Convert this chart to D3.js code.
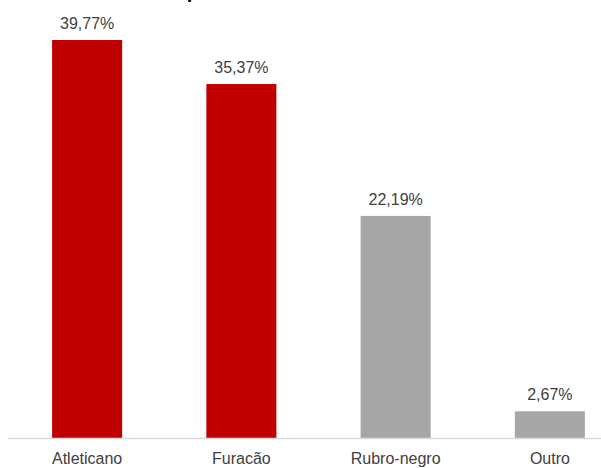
<!DOCTYPE html>
<html>
<head>
<meta charset="utf-8">
<script src="https://cdn.jsdelivr.net/npm/d3@7/dist/d3.min.js"></script>
<style>
  html, body { margin: 0; padding: 0; background: #fff; }
  svg { display: block; }
</style>
</head>
<body>
<svg id="chart" width="601" height="468"></svg>
<script>
// Apelido preferido pelo torcedor (% das respostas)
const categories = ["Atleticano", "Furacão", "Rubro-negro", "Outro"];
const values = [39.77, 35.37, 22.19, 2.67];
const valueLabels = ["39,77%", "35,37%", "22,19%", "2,67%"];
const barColors = ["#C00000", "#C00000", "#A6A6A6", "#A6A6A6"];
const title = "Como o torcedor prefere ser chamado";

const width = 601, height = 468;
const baseY = 438;
const svg = d3.select("#chart");

const x = d3.scaleBand()
  .domain(categories)
  .range([10, 627])
  .paddingInner(0.546)
  .paddingOuter(0.273);

const y = d3.scaleLinear()
  .domain([0, 39.77])
  .range([baseY, 40]);

// title (runs off the top edge of the frame)
svg.append("text")
  .attr("x", 20)
  .attr("y", -2)
  .attr("font-family", "Liberation Sans, Arial, sans-serif")
  .attr("font-weight", "bold")
  .attr("font-size", 20)
  .attr("fill", "#000")
  .text(title);

// bars
svg.append("g")
  .selectAll("rect")
  .data(values)
  .join("rect")
  .attr("x", (d, i) => x(categories[i]))
  .attr("y", d => y(d))
  .attr("width", x.bandwidth())
  .attr("height", d => y(0) - y(d))
  .attr("fill", (d, i) => barColors[i]);

// value labels
svg.append("g")
  .selectAll("text")
  .data(values)
  .join("text")
  .attr("x", (d, i) => x(categories[i]) + x.bandwidth() / 2)
  .attr("y", d => y(d) - 11)
  .attr("text-anchor", "middle")
  .attr("font-family", "Liberation Sans, Arial, sans-serif")
  .attr("font-size", 16)
  .attr("fill", "#404040")
  .text((d, i) => valueLabels[i]);

// category axis
const axis = svg.append("g")
  .attr("transform", `translate(0,${baseY})`)
  .call(d3.axisBottom(x).tickSize(0).tickPadding(15));
axis.select(".domain").remove();
axis.append("line")
  .attr("x1", 8).attr("x2", width)
  .attr("y1", 0.5).attr("y2", 0.5)
  .attr("stroke", "#D9D9D9")
  .attr("stroke-width", 1.5);
axis.selectAll(".tick text")
  .attr("font-family", "Liberation Sans, Arial, sans-serif")
  .attr("font-size", 16)
  .attr("fill", "#404040");
</script>
</body>
</html>
